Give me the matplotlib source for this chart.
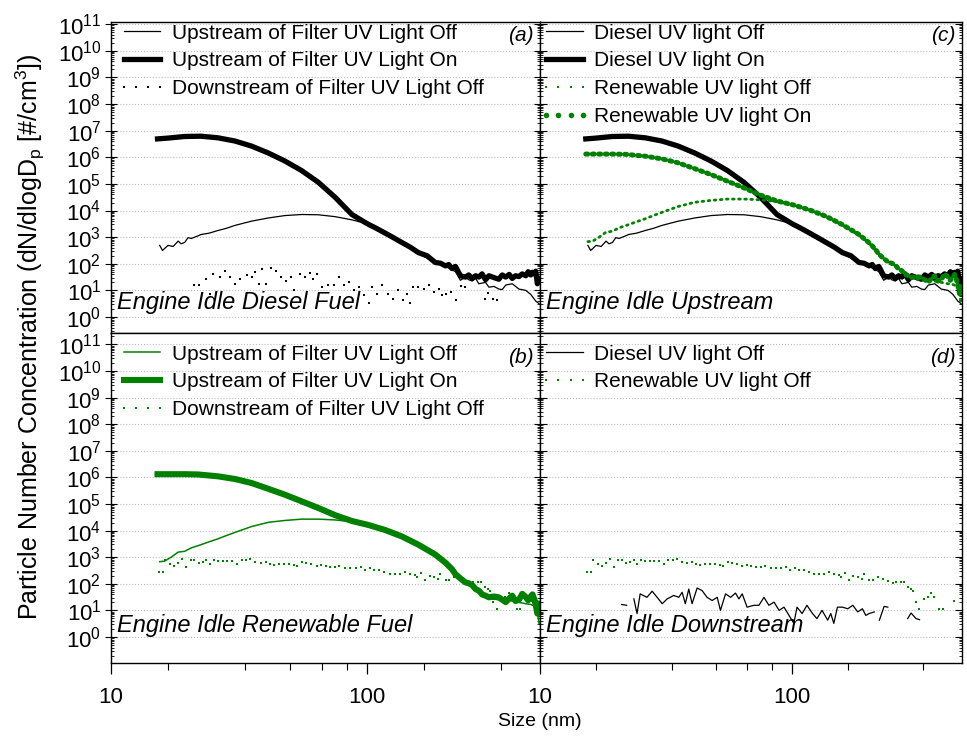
import numpy as np
import matplotlib
matplotlib.use("Agg")
import matplotlib.pyplot as plt
from matplotlib.ticker import FixedLocator, LogLocator, NullFormatter, FuncFormatter

plt.rcParams['font.family'] = ['Liberation Sans', 'DejaVu Sans']
plt.rcParams['mathtext.fontset'] = 'custom'
plt.rcParams['mathtext.rm'] = 'Liberation Sans'
plt.rcParams['mathtext.it'] = 'Liberation Sans:italic'

green = '#008000'

# ---- data read off the figure : size (nm) and log10(dN/dlogDp)
# diesel, upstream of filter, UV on
dsl_on_x = [15.2, 16.7, 19.4, 22.5, 26.2, 30.5, 35.4, 41.2, 47.8, 55.6, 64.6, 75.1, 87.4, 98.5, 101.5,
            109, 118, 127, 137, 148, 159, 172, 185, 194, 203, 209, 215, 222, 232, 243,
            250, 258, 266, 274, 282, 291, 300, 314, 328, 338, 349, 360, 370, 381, 393,
            405, 418, 427, 437, 444, 451, 457, 464, 471]
dsl_on_lg = [6.69, 6.72, 6.78, 6.79, 6.73, 6.61, 6.42, 6.16, 5.86, 5.50, 5.06, 4.50, 3.85, 3.55, 3.48,
             3.33, 3.15, 2.98, 2.80, 2.62, 2.42, 2.30, 2.05, 2.02, 1.92, 1.97, 1.82, 1.90, 1.55, 1.50,
             1.58, 1.45, 1.55, 1.50, 1.62, 1.40, 1.55, 1.48, 1.42, 1.58, 1.50, 1.60, 1.45, 1.55, 1.52,
             1.62, 1.55, 1.70, 1.58, 1.68, 1.62, 1.72, 1.25, 1.45]

# diesel, upstream of filter, UV off
dsl_off_x = [15.5, 15.9, 16.7, 17.5, 18.3, 18.8, 19.4, 20.0, 20.6, 21.9, 22.5, 24.2, 26.2, 28.2, 30.5,
             35.4, 41.2, 47.8, 55.6, 64.6, 75.1, 87.4, 98.5, 109, 118, 137, 159, 185, 203, 215,
             222, 232, 243, 250, 258, 266, 274, 291, 300, 314, 328, 338, 349, 370, 393,
             418, 437, 457, 471]
dsl_off_lg = [2.69, 2.50, 2.69, 2.65, 2.85, 2.75, 2.80, 2.98, 2.95, 3.05, 3.10, 3.15, 3.25, 3.33, 3.44,
              3.60, 3.72, 3.81, 3.85, 3.84, 3.77, 3.65, 3.52, 3.33, 3.12, 2.77, 2.40, 2.03, 1.90, 1.78,
              1.70, 1.38, 1.50, 1.40, 1.35, 1.45, 1.25, 1.30, 1.12, 1.15, 1.05, 1.03, 1.20, 1.25, 1.05,
              1.00, 0.85, 0.60, 0.50]

# diesel, downstream of filter, UV off (nan = missing bins)
dsl_dn_x = [21.1, 22.1, np.nan, 23.6, 24.3, 25.0, 26.6, 27.9, 29.2, 30.6, 32.0, 34.0, 35.6, 36.7, 37.8,
            39.0, 40.2, 42.1, 44.1, 46.1, 48.3, 50.6, 52.1, 54.6, 57.2, 59.8, 61.7, 63.6, 66.5, 70.8,
            74.1, 77.6, 81.2, 85.1, 89.1, 93.2, 97.6, 102, 105, 110, 115, 121, 126, 132, 139,
            143, 147, 152, 159, 167, 175, 183, 191, 197, 203, 213, np.nan, 223, 233, 241,
            np.nan, 289, 298, 312, 322]
dsl_dn_lg = [1.22, 1.19, np.nan, 1.43, 0.88, 1.62, 1.49, 1.72, 1.49, 1.25, 1.43, 1.56, 1.49, 1.68, 1.25,
             1.80, 1.25, 1.84, 1.74, 1.49, 1.37, 1.49, 1.00, 1.62, 1.49, 1.65, 1.43, 1.62, 1.12, 1.19,
             1.19, 1.49, 1.19, 1.31, 1.00, 1.12, 0.81, 0.51, 1.12, 0.88, 1.19, 0.88, 0.69, 1.00, 0.63,
             0.88, 0.51, 1.12, 1.12, 1.06, 1.19, 0.94, 1.06, 0.81, 0.88, 0.94, np.nan, 0.63, 1.15, 1.12,
             np.nan, 0.69, 0.90, 0.69, 0.65]

# renewable, upstream of filter, UV on
rnw_on_x = [15.2, 16.7, 19.4, 21.9, 26.2, 30.5, 35.4, 41.2, 47.8, 55.6, 64.6, 75.1, 87.4, 101.5, 118,
            137, 159, 185, 203, 215, 222, 232, 243, 250, 258, 266, 274, 282, 291, 300,
            314, 328, 338, 349, 360, 370, 381, 393, 405, 418, 427, 437, 444, 451, 457,
            464, 471]
rnw_on_lg = [6.12, 6.12, 6.12, 6.11, 6.04, 5.94, 5.79, 5.57, 5.35, 5.10, 4.85, 4.58, 4.36, 4.21, 4.02,
             3.78, 3.47, 3.10, 2.79, 2.55, 2.36, 2.20, 2.05, 2.02, 1.95, 1.80, 1.74, 1.60, 1.55, 1.49,
             1.52, 1.49, 1.40, 1.31, 1.45, 1.55, 1.35, 1.40, 1.62, 1.50, 1.38, 1.52, 1.60, 1.42, 1.20,
             0.88, 1.25]

# renewable, upstream of filter, UV off
rnw_off_x = [15.5, 16.2, 17.2, 18.3, 19.4, 20.6, 22.5, 24.2, 26.2, 28.2, 30.5, 35.4, 41.2, 47.8, 55.6,
             64.6, 75.1, 82.2, 87.4, 101.5, 118, 137, 159, 185, 203, 222, 243, 258, 274, 291,
             300, 314, 328, 349, 370, 393, 418, 437, 457, 464, 471]
rnw_off_lg = [2.83, 2.85, 3.00, 3.19, 3.22, 3.35, 3.47, 3.58, 3.69, 3.81, 3.93, 4.15, 4.31, 4.38, 4.43,
              4.43, 4.40, 4.36, 4.33, 4.20, 4.00, 3.76, 3.45, 3.08, 2.77, 2.33, 2.03, 1.95, 1.75, 1.55,
              1.45, 1.42, 1.40, 1.38, 1.35, 1.30, 1.25, 1.22, 1.15, 0.90, 0.50]

# renewable, downstream of filter, UV off
rnw_dn_x = [15.35, 15.9, 16.3, 17.06, 17.6, 18.3, 19.0, 19.7, 20.5, 21.1, 22.0, 22.8, 23.6, 24.3, 25.2,
            26.2, 27.4, 28.3, 29.6, 31.2, 32.4, 33.8, 35.0, 36.7, 38.4, 40.2, 41.8, 43.4, 45.4, 47.5,
            49.8, 52.1, 53.4, 55.8, 58.0, 60.7, 63.6, 66.2, 69.1, 71.9, 75.2, 78.0, 82.4, 86.3, 90.4,
            94.6, 98.4, 102.8, 107, 112, 117, 123, 128.5, 134.5, 141, 147.5, 154.4, 156.7, 162.5, 169,
            176, 182.7, 189.5, 194, 203, 209.5, 219.5, 229.6, 240.4, 251.7, 259.5, 271.8, 280.3, 289, 298,
            302.6, 312, 321.6, 336.8, 347.2, 358, 369, 386, 398, 443.4]
rnw_dn_lg = [2.46, 2.46, 2.88, 2.75, 2.67, 2.79, 2.93, 2.63, 2.89, 2.88, 2.79, 2.83, 2.88, 2.73, 2.89,
             2.85, 2.84, 2.86, 2.84, 2.75, 2.91, 2.91, 2.94, 2.82, 2.79, 2.83, 2.75, 2.70, 2.75, 2.75,
             2.73, 2.69, 2.67, 2.82, 2.79, 2.73, 2.65, 2.69, 2.67, 2.64, 2.63, 2.65, 2.58, 2.58, 2.58,
             2.63, 2.51, 2.61, 2.51, 2.51, 2.44, 2.38, 2.38, 2.36, 2.46, 2.38, 2.33, 2.24, 2.41, 2.14,
             2.30, 2.26, 2.17, 2.38, 2.14, 2.14, 2.26, 2.17, 2.11, 2.01, 2.07, 2.07, 2.07, 1.86, 1.80,
             1.74, 1.31, 1.06, 1.43, 1.49, 1.64, 1.49, 1.06, 1.06, 1.37]

def conc(lg):
    return 10.0 ** np.asarray(lg, dtype=float)

x_minor = [100 / 6, 100 / 3, 50, 200 / 3, 250 / 3, 500 / 3, 1000 / 3]

fig = plt.figure(figsize=(9.67, 7.41), dpi=100)
L, Wl, Wr = 111 / 967, 429 / 967, 422 / 967
ax_a = fig.add_axes([L, 1 - 333 / 741, Wl, 311 / 741])
ax_c = fig.add_axes([L + Wl, 1 - 333 / 741, Wr, 311 / 741])
ax_b = fig.add_axes([L, 1 - 663 / 741, Wl, 330 / 741])
ax_d = fig.add_axes([L + Wl, 1 - 663 / 741, Wr, 330 / 741])

for ax in (ax_a, ax_b, ax_c, ax_d):
    ax.set_xscale('log'); ax.set_yscale('log')
    ax.set_xlim(10, 475)
    ax.yaxis.set_major_locator(FixedLocator([10.0 ** k for k in range(0, 12)]))
    ax.yaxis.set_minor_locator(LogLocator(base=10, subs=np.arange(2, 10), numticks=200))
    ax.yaxis.set_minor_formatter(NullFormatter())
    ax.xaxis.set_major_locator(FixedLocator([10, 100]))
    ax.xaxis.set_minor_locator(FixedLocator(x_minor))
    ax.xaxis.set_major_formatter(FuncFormatter(lambda v, p: f"{v:g}"))
    ax.xaxis.set_minor_formatter(NullFormatter())
    ax.grid(True, which='major', axis='y', ls=':', lw=0.8, color='#bdbdbd')
    ax.tick_params(axis='y', which='both', left=True, right=True, direction='in')
    ax.tick_params(axis='y', which='major', length=5, width=0.8)
    ax.tick_params(axis='y', which='minor', length=2.5, width=0.6)
    for s in ax.spines.values():
        s.set_linewidth(1.0)
    ax.set_axisbelow(True)

for ax in (ax_a, ax_c):
    ax.set_ylim(10 ** -0.6, 10 ** 11.08)
    ax.tick_params(axis='x', which='both', bottom=False, labelbottom=False)
for ax in (ax_b, ax_d):
    ax.set_ylim(10 ** -0.98, 10 ** 11.43)
    ax.tick_params(axis='x', which='major', direction='out', length=8, width=0.9,
                   labelsize=16, pad=9)
    ax.tick_params(axis='x', which='minor', direction='out', length=5, width=0.8)

for ax in (ax_a, ax_b):
    ax.yaxis.set_major_formatter(FuncFormatter(lambda v, p: r"$10^{%d}$" % round(np.log10(v))))
    ax.tick_params(axis='y', which='major', labelsize=16, pad=3)
    ax.tick_params(axis='y', which='major', left=True, direction='inout', length=8)
for ax in (ax_c, ax_d):
    ax.tick_params(axis='y', which='both', labelleft=False)

leg_kw = dict(loc='upper left', frameon=False, fontsize=15, handlelength=2.35,
              handletextpad=0.25, labelspacing=0.42, borderpad=0.0, borderaxespad=0.0,
              numpoints=4)

# (a) diesel fuel
ax_a.plot(dsl_off_x, conc(dsl_off_lg), color='k', lw=0.9, label='Upstream of Filter UV Light Off')
ax_a.plot(dsl_on_x, conc(dsl_on_lg), color='k', lw=3.8, label='Upstream of Filter UV Light On')
ax_a.plot(dsl_dn_x, conc(dsl_dn_lg), ls='none', marker='s', ms=2.0, mew=0, color='k',
          label='Downstream of Filter UV Light Off')
ax_a.legend(bbox_to_anchor=(0.015, 0.995), **leg_kw)

# (b) renewable fuel
ax_b.plot(rnw_off_x, conc(rnw_off_lg), color=green, lw=1.1, label='Upstream of Filter UV Light Off')
ax_b.plot(rnw_on_x, conc(rnw_on_lg), color=green, lw=4.4, label='Upstream of Filter UV Light On')
ax_b.plot(rnw_dn_x, conc(rnw_dn_lg), ls='none', marker='s', ms=2.0, mew=0, color=green,
          label='Downstream of Filter UV Light Off')
ax_b.legend(bbox_to_anchor=(0.015, 0.965), **leg_kw)

# (c) upstream comparison
ax_c.plot(dsl_off_x, conc(dsl_off_lg), color='k', lw=0.9, label='Diesel UV light Off')
ax_c.plot(dsl_on_x, conc(dsl_on_lg), color='k', lw=3.8, label='Diesel UV light On')
ax_c.plot(rnw_off_x, conc(rnw_off_lg), color=green, lw=2.0, ls=(0, (0.6, 1.6)),
          dash_capstyle='round', label='Renewable UV light Off')
ax_c.plot(rnw_on_x, conc(rnw_on_lg), color=green, lw=3.6, ls=(0, (0.4, 0.9)),
          dash_capstyle='round', label='Renewable UV light On')
h, lab = ax_c.get_legend_handles_labels()
h[2] = plt.Line2D([], [], ls='none', marker='s', ms=2.0, mew=0, color=green)
h[3] = plt.Line2D([], [], ls='none', marker='o', ms=4, mew=0, color=green)
ax_c.legend(h, lab, bbox_to_anchor=(0.0, 0.995), **leg_kw)

# (d) downstream comparison
ax_d.plot(dsl_dn_x, conc(dsl_dn_lg), color='k', lw=0.9, label='Diesel UV light Off')
ax_d.plot(rnw_dn_x, conc(rnw_dn_lg), ls='none', marker='s', ms=2.0, mew=0, color=green,
          label='Renewable UV light Off')
ax_d.legend(bbox_to_anchor=(0.0, 0.965), **leg_kw)

for ax, tag, yy in ((ax_a, '(a)', 0.955), (ax_c, '(c)', 0.955), (ax_b, '(b)', 0.925), (ax_d, '(d)', 0.925)):
    ax.text(0.985, yy, tag, transform=ax.transAxes, ha='right', va='center',
            fontsize=15, style='italic')

for ax, txt, yy in ((ax_a, 'Engine Idle Diesel Fuel', 0.097), (ax_c, 'Engine Idle Upstream', 0.097),
                    (ax_b, 'Engine Idle Renewable Fuel', 0.115), (ax_d, 'Engine Idle Downstream', 0.115)):
    ax.text(0.014, yy, txt, transform=ax.transAxes, ha='left', va='center',
            fontsize=17, style='italic')

fig.text(0.031, 0.546, r'Particle Number Concentration (dN/dlogD$_\mathrm{p}$ [#/cm$^3$])',
         rotation=90, ha='center', va='center', fontsize=18)
fig.text(0.558, 0.026, 'Size (nm)', ha='center', va='center', fontsize=14)

fig.savefig('out.png', dpi=100)
